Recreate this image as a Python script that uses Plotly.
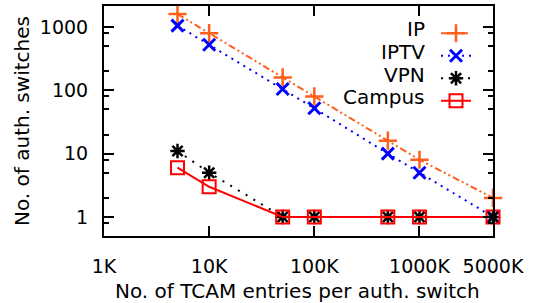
import plotly.graph_objects as go

# ---- data ----
entries = [5000, 10000, 50000, 100000, 500000, 1000000, 5000000]
ip = [1600, 800, 160, 80, 16, 8, 2]
iptv = [1050, 525, 105, 52, 10, 5, 1]
vpn = [11, 5, 1, 1, 1, 1, 1]
campus = [6, 3, 1, 1, 1, 1, 1]

series_names = ["IP", "IPTV", "VPN", "Campus"]
x_tickvals = [1000, 10000, 100000, 1000000, 5000000]
x_ticktext = ["1K", "10K", "100K", "1000K", "5000K"]
y_tickvals = [1, 10, 100, 1000]
y_ticktext = ["1", "10", "100", "1000"]
y_minor = [0.8, 2, 5, 8, 20, 50, 80, 200, 500, 800]

FONT = "DejaVu Sans"
W, H = 535, 303
L, R, T, B = 104, 42, 6, 67

styles = [
    dict(color="#ff5f1a", dash="7px,3px,2px,3px,2px,3px", symbol="cross-thin", size=13, lw=2.5),
    dict(color="#0000ff", dash="2px,5px", symbol="x-thin", size=12, lw=3),
    dict(color="#000000", dash="2px,7px", symbol="asterisk", size=12, lw=2.5),
    dict(color="#ff0000", dash="solid", symbol="square-open", size=13, lw=2),
]
values = [ip, iptv, vpn, campus]

fig = go.Figure()
for name, vals, st in zip(series_names, values, styles):
    fig.add_trace(go.Scatter(
        x=entries, y=vals, name="", mode="lines+markers",
        line=dict(color=st["color"], dash=st["dash"], width=2),
        marker=dict(symbol=st["symbol"], size=st["size"], color=st["color"],
                    line=dict(color=st["color"], width=st["lw"])),
        showlegend=True, cliponaxis=False,
    ))

def px_x(p):
    return (p - L) / (W - L - R)

def px_y(p):
    return (H - B - p) / (H - T - B)

row_y = [29, 52, 75, 97]
for name, ry in zip(series_names, row_y):
    fig.add_annotation(text=name, xref="paper", yref="paper", x=px_x(427), y=px_y(ry),
                       xanchor="right", yanchor="middle", showarrow=False,
                       font=dict(family=FONT, size=20, color="black"))

fig.add_annotation(text="No. of TCAM entries per auth. switch", xref="paper", yref="paper",
                   x=px_x(297), y=px_y(291), xanchor="center", yanchor="middle",
                   showarrow=False, font=dict(family=FONT, size=20, color="black"))
fig.add_annotation(text="No. of auth. switches", xref="paper", yref="paper",
                   x=px_x(22), y=px_y(121), xanchor="center", yanchor="middle",
                   textangle=-90, showarrow=False, font=dict(family=FONT, size=20, color="black"))

axis_common = dict(
    showline=True, linecolor="black", linewidth=2, mirror="ticks",
    ticks="inside", ticklen=10, tickwidth=1.5, tickcolor="black",
    showgrid=False, zeroline=False, automargin=False,
    tickfont=dict(family=FONT, size=19, color="black"),
)

fig.update_xaxes(type="log", range=[3, 6.699], tickmode="array",
                 tickvals=x_tickvals, ticktext=x_ticktext, ticklabelstandoff=12,
                 **axis_common)
fig.update_yaxes(type="log", range=[-0.301, 3.332], tickmode="array",
                 tickvals=y_tickvals, ticktext=y_ticktext, ticklabelstandoff=10,
                 minor=dict(tickvals=y_minor, ticks="inside", ticklen=5, tickwidth=1.5, tickcolor="black"),
                 **axis_common)

fig.update_layout(
    width=W, height=H,
    margin=dict(l=L, r=R, t=T, b=B),
    paper_bgcolor="white", plot_bgcolor="white",
    font=dict(family=FONT, size=19, color="black"),
    legend=dict(x=px_x(436), y=px_y(17), xanchor="left", yanchor="top",
                bgcolor="rgba(0,0,0,0)", borderwidth=0, tracegroupgap=0,
                font=dict(family=FONT, size=15)),
    showlegend=True,
)

fig.write_html("out.html", config={"displayModeBar": False},
               post_script="document.body.style.margin='0';document.body.style.padding='0';")
